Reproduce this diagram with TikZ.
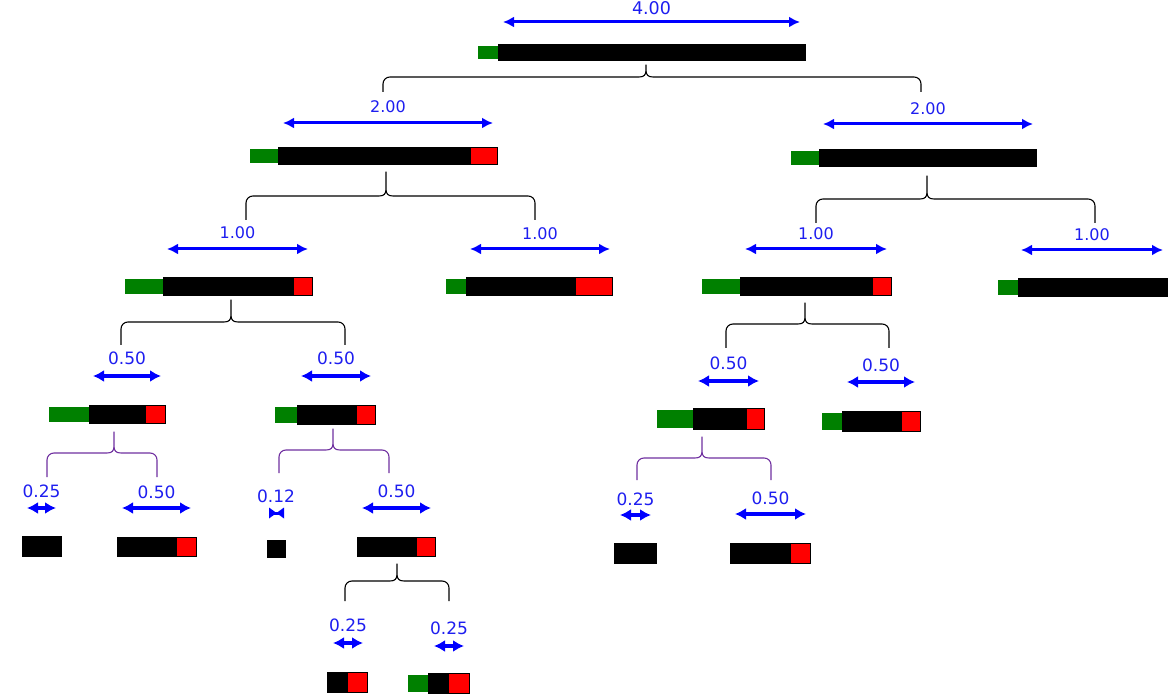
\documentclass[tikz,border=0pt]{standalone}
\usepackage{fontspec}
\setmainfont{DejaVu Sans}
\usetikzlibrary{arrows.meta}
\definecolor{cGreen}{RGB}{0,128,0}
\definecolor{cRed}{RGB}{255,0,0}
\definecolor{cBlue}{RGB}{0,0,255}
\definecolor{cLbl}{RGB}{30,30,240}
\definecolor{cPurple}{RGB}{112,48,160}
\tikzset{
  kbar/.style={fill=black, draw=none, inner sep=0pt, outer sep=0pt, anchor=north west},
  dimline/.style={draw=cBlue, line width=3pt, {Latex[length=11pt,width=11pt]}-{Latex[length=11pt,width=11pt]}},
  dimthick/.style={dimline, line width=3.4pt, {Latex[length=11pt,width=12pt]}-{Latex[length=11pt,width=12pt]}},
  lbl/.style={text=cLbl, inner sep=0pt, font=\fontsize{16}{16}\selectfont},
  lblbig/.style={lbl, font=\fontsize{17}{17}\selectfont},
  bracek/.style={draw=black, line width=1.1pt, line join=round},
  bracep/.style={draw=cPurple, line width=1.1pt, line join=round}
}
% #1 name, #2 green left, #3 black left, #4 black right, #5 red left, #6 top, #7 bottom
\newcommand\mkbar[7]{%
  \ifdim #2pt<#3pt \fill[cGreen] (#2,#6+2) rectangle (#3,#7-2);\fi
  \pgfmathsetmacro\mkw{#4-#3}%
  \pgfmathsetmacro\mkh{#7-#6}%
  \node[kbar, minimum width=\mkw pt, minimum height=\mkh pt] (#1) at (#3,#6) {};
  \ifdim #5pt<#4pt \fill[cRed] (#5,#6+1.2) rectangle (#4-0.8,#7-1.2);\fi
}
% #1 style, #2 name, #3 x1, #4 x2, #5 y, #6 label, #7 label y, #8 label style
\newcommand\mkdim[8]{%
  \coordinate (#2l) at (#3,#5);
  \coordinate (#2r) at (#4,#5);
  \draw[#1] (#2l) -- (#2r);
  \node[#8] (#2t) at ({(#3+#4)/2},#7) {#6};
}
% #1 style, #2 xl, #3 xt, #4 xr, #5 y tip, #6 y horizontal, #7 y end
\newcommand\mkbrace[7]{%
  \draw[#1] (#2,#7) -- (#2,#6+7) .. controls (#2,#6+3) and (#2+3,#6) .. (#2+7,#6)
    -- (#3-7,#6) .. controls (#3-2,#6) and (#3,#6-2) .. (#3,#6-7) -- (#3,#5)
    -- (#3,#6-7) .. controls (#3,#6-2) and (#3+2,#6) .. (#3+7,#6)
    -- (#4-7,#6) .. controls (#4-3,#6) and (#4,#6+3) .. (#4,#6+7) -- (#4,#7);
}
\begin{document}
\begin{tikzpicture}[x=1pt,y=-1pt]
\useasboundingbox[fill=white] (0,0) rectangle (1173,700);

% level 0
\mkdim{dimline}{d0}{503}{800}{22}{4.00}{8}{lbl, font=\fontsize{17.5}{17.5}\selectfont}
\mkbar{n0}{478}{498}{806}{806}{44}{61}
\mkbrace{bracek}{383}{646}{921}{65}{77}{92}

% level 1
\mkdim{dimline}{d1L}{283}{493}{123}{2.00}{107}{lbl}
\mkbar{n1L}{250}{278}{498}{471}{147}{165}
\mkbrace{bracek}{246}{386}{535}{172}{196}{220}

\mkdim{dimline}{d1R}{823}{1033}{124}{2.00}{109}{lbl}
\mkbar{n1R}{791}{819}{1037}{1037}{149}{167}
\mkbrace{bracek}{816}{927}{1095}{176}{199}{223}

% level 2
\mkdim{dimline}{d2A}{167}{308}{249}{1.00}{233}{lbl}
\mkbar{n2A}{125}{163}{313}{294}{277}{296}
\mkbrace{bracek}{121}{231}{345}{300}{322}{345}

\mkdim{dimline}{d2B}{470}{610}{249}{1.00}{234}{lbl}
\mkbar{n2B}{446}{466}{613}{576}{277}{296}

\mkdim{dimline}{d2C}{745}{887}{249}{1.00}{234}{lbl}
\mkbar{n2C}{702}{740}{892}{873}{277}{296}
\mkbrace{bracek}{726}{805}{889}{303}{324}{348}

\mkdim{dimline}{d2D}{1021}{1163}{250}{1.00}{235}{lbl}
\mkbar{n2D}{998}{1018}{1168}{1168}{278}{297}

% level 3
\mkdim{dimthick}{d3A1}{93}{161}{376}{0.50}{358}{lblbig}
\mkbar{n3A1}{49}{89}{166}{146}{405}{424}
\mkbrace{bracep}{47}{114}{157}{432}{453}{477}

\mkdim{dimthick}{d3A2}{301}{371}{376}{0.50}{358}{lblbig}
\mkbar{n3A2}{275}{297}{376}{357}{405}{425}
\mkbrace{bracep}{279}{333}{389}{429}{450}{473}

\mkdim{dimthick}{d3C1}{698}{759}{381}{0.50}{363}{lblbig}
\mkbar{n3C1}{657}{693}{765}{747}{408}{430}
\mkbrace{bracep}{637}{702}{771}{437}{458}{480}

\mkdim{dimthick}{d3C2}{847}{915}{382}{0.50}{365}{lblbig}
\mkbar{n3C2}{822}{842}{921}{902}{411}{432}

% level 4
\mkdim{dimthick}{d4A1a}{27}{56}{508}{0.25}{491}{lblbig}
\mkbar{n4A1a}{22}{22}{62}{62}{536}{557}

\mkdim{dimthick}{d4A1b}{122}{191}{508}{0.50}{492}{lblbig}
\mkbar{n4A1b}{117}{117}{197}{177}{537}{557}

% tiny 0.12 (bow tie)
\coordinate (d4A2al) at (269,513);
\coordinate (d4A2ar) at (284,513);
\coordinate (d4A2am) at (276.5,513);
\fill[cBlue] (d4A2al) ++(0,-5.5) -- ++(0,11) -- (d4A2am) -- cycle;
\fill[cBlue] (d4A2ar) ++(0,-5.5) -- ++(0,11) -- (d4A2am) -- cycle;
\draw[cBlue, line width=3pt] (d4A2al) -- (d4A2ar);
\node[lblbig] (d4A2at) at (276,496) {0.12};
\mkbar{n4A2a}{267}{267}{286}{286}{540}{558}

\mkdim{dimthick}{d4A2b}{362}{431}{508}{0.50}{491}{lblbig}
\mkbar{n4A2b}{357}{357}{436}{417}{537}{557}
\mkbrace{bracek}{345}{397}{449}{564}{581}{601}

\mkdim{dimthick}{d4C1a}{620}{651}{515}{0.25}{499}{lblbig}
\mkbar{n4C1a}{614}{614}{657}{657}{543}{564}

\mkdim{dimthick}{d4C1b}{735}{806}{514}{0.50}{498}{lblbig}
\mkbar{n4C1b}{730}{730}{811}{791}{543}{564}

% level 5
\mkdim{dimthick}{d5a}{333}{363}{643}{0.25}{625}{lblbig}
\mkbar{n5a}{327}{327}{368}{348}{672}{693}

\mkdim{dimthick}{d5b}{434}{464}{646}{0.25}{628}{lblbig}
\mkbar{n5b}{408}{428}{470}{449}{673}{694}
\end{tikzpicture}
\end{document}
